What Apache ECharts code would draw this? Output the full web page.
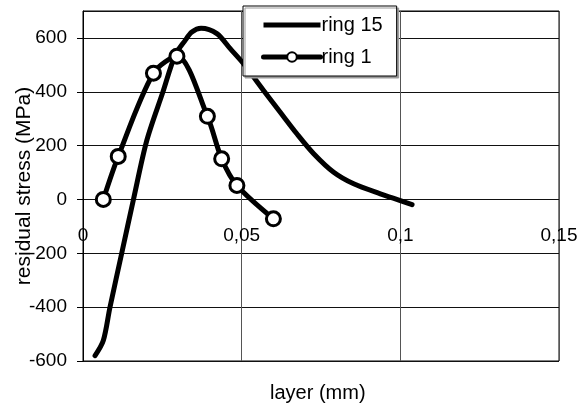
<!DOCTYPE html>
<html>
<head>
<meta charset="utf-8">
<script src="https://cdn.jsdelivr.net/npm/echarts@6/dist/echarts.min.js"></script>
<style>html,body{margin:0;padding:0;background:#fff}#c{width:577px;height:408px}</style>
</head>
<body>
<div id="c"></div>
<script>
var ring15X = [0.0038, 0.0064, 0.0085, 0.0122, 0.0159, 0.0201, 0.0252, 0.029, 0.0322, 0.0343, 0.0372, 0.0422, 0.0464, 0.0506, 0.0569, 0.0621, 0.0674, 0.0727, 0.079, 0.0853, 0.0937, 0.1, 0.1037];
var ring15Y = [-580, -524, -400, -200, 0, 219, 400, 535, 591, 622, 636, 616, 560, 504, 405, 325, 244, 170, 101, 58, 21, -4, -19];
var ring1X = [0.0064, 0.0111, 0.0222, 0.0296, 0.0392, 0.0437, 0.0485, 0.060];
var ring1Y = [0, 160, 469, 532, 309, 151, 52, -72];
var seriesNames = ['ring 15', 'ring 1'];
var xTitle = 'layer (mm)';
var yTitle = 'residual stress (MPa)';

function pairs(xs, ys) { return xs.map(function (x, i) { return [x, ys[i]]; }); }

var font = 'Liberation Sans, Arial, sans-serif';
var chart = echarts.init(document.getElementById('c'));
chart.setOption({
  animation: false,
  backgroundColor: '#fff',
  grid: { left: 83, top: 11, right: 18, bottom: 47, outerBoundsMode: 'none', containLabel: false,
    show: true, borderColor: '#000', borderWidth: 1, backgroundColor: 'transparent' },
  legend: {
    left: 243, top: 6, orient: 'vertical',
    itemWidth: 57, itemHeight: 12, itemGap: 12,
    padding: [9, 14, 9, 18],
    backgroundColor: '#fff', borderColor: '#000', borderWidth: 1,
    shadowColor: '#999', shadowBlur: 0, shadowOffsetX: 2, shadowOffsetY: 2,
    textStyle: { fontFamily: font, fontSize: 20, color: '#000', padding: [0, 0, 0, -4] },
    lineStyle: { width: 5, color: '#000' },
    data: [
      { name: seriesNames[0], icon: 'path://M0,0 M57,12 M0,3.5 L57,3.5 L57,8.5 L0,8.5 Z', itemStyle: { color: '#000', borderWidth: 0 } },
      { name: seriesNames[1] }
    ]
  },
  xAxis: {
    type: 'value', min: 0, max: 0.15, interval: 0.05,
    offset: -161,
    axisLine: { show: false, onZero: false },
    axisTick: { show: false },
    axisLabel: { margin: 26, fontFamily: font, fontSize: 19, color: '#000',
      formatter: function (v) { return String(+v.toFixed(2)).replace('.', ','); } },
    splitLine: { show: true, lineStyle: { color: '#555', width: 1 } }
  },
  yAxis: {
    type: 'value', min: -600, max: 700, interval: 200,
    name: yTitle, nameLocation: 'middle', nameGap: 48, nameMoveOverlap: false,
    nameTextStyle: { fontFamily: font, fontSize: 21, color: '#000' },
    axisLine: { show: true, lineStyle: { color: '#000', width: 1 } },
    axisTick: { show: true, length: 6, lineStyle: { color: '#000' } },
    axisLabel: { margin: 16, fontFamily: font, fontSize: 19, color: '#000', showMaxLabel: false },
    splitLine: { show: true, lineStyle: { color: '#111', width: 1 } }
  },
  graphic: [{
    type: 'text', left: 270, top: 383,
    style: { text: xTitle, font: '20px ' + font, fill: '#000' }
  }],
  series: [
    {
      name: seriesNames[0], type: 'line', data: pairs(ring15X, ring15Y),
      smooth: 0.3, symbol: 'none',
      lineStyle: { color: '#000', width: 5, cap: 'round', join: 'round' },
      itemStyle: { color: '#000' }
    },
    {
      name: seriesNames[1], type: 'line', data: pairs(ring1X, ring1Y),
      smooth: 0.3, symbol: 'circle', symbolSize: 14, z: 3,
      lineStyle: { color: '#000', width: 5, cap: 'round', join: 'round' },
      itemStyle: { color: '#fff', borderColor: '#000', borderWidth: 3 }
    }
  ]
});
</script>
</body>
</html>
